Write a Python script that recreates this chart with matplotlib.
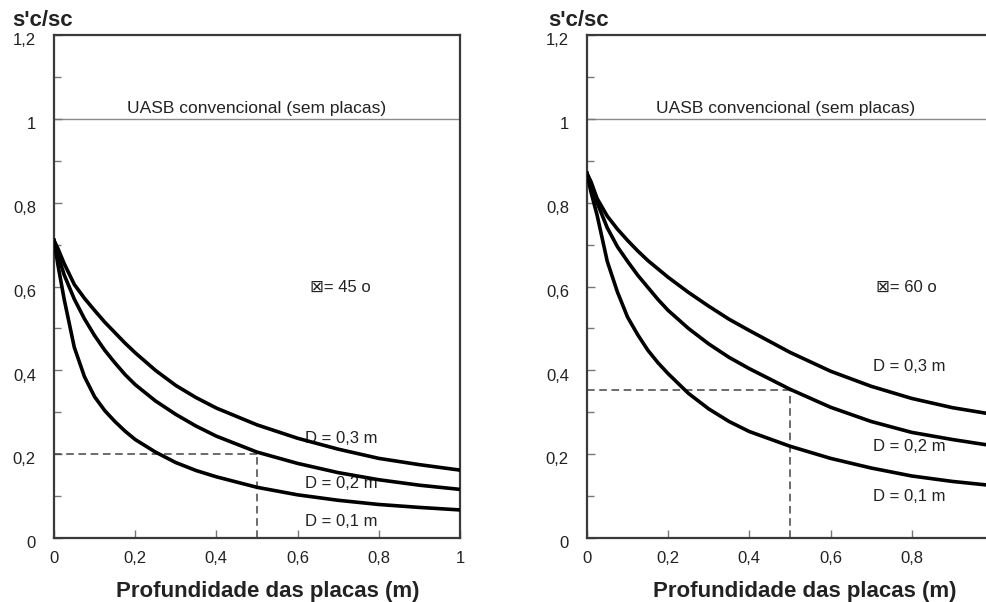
import matplotlib
matplotlib.use("Agg")
import matplotlib.pyplot as plt
import matplotlib.transforms as mtransforms
from matplotlib.ticker import MultipleLocator, FixedLocator

plt.rcParams['font.family'] = ['Liberation Sans', 'DejaVu Sans']

# ---- data ----
depth = [0, 0.01, 0.025, 0.05, 0.075, 0.1, 0.125, 0.15, 0.175, 0.2, 0.25, 0.3, 0.35, 0.4,
         0.5, 0.6, 0.7, 0.8, 0.9, 1.0]

left_d01 = [0.71, 0.65, 0.57, 0.455, 0.385, 0.337, 0.304, 0.278, 0.255, 0.235, 0.205, 0.18, 0.161, 0.146,
            0.121, 0.103, 0.09, 0.08, 0.073, 0.067]
left_d02 = [0.71, 0.675, 0.628, 0.57, 0.523, 0.483, 0.448, 0.418, 0.39, 0.366, 0.327, 0.295, 0.267, 0.243,
            0.205, 0.178, 0.156, 0.139, 0.126, 0.116]
left_d03 = [0.71, 0.69, 0.655, 0.605, 0.572, 0.543, 0.515, 0.49, 0.465, 0.442, 0.4, 0.364, 0.335, 0.31,
            0.27, 0.238, 0.212, 0.19, 0.175, 0.162]

right_d01 = [0.87, 0.825, 0.77, 0.66, 0.587, 0.527, 0.485, 0.448, 0.418, 0.392, 0.345, 0.308, 0.278, 0.254,
             0.219, 0.19, 0.167, 0.148, 0.135, 0.125]
right_d02 = [0.87, 0.84, 0.8, 0.74, 0.695, 0.66, 0.627, 0.598, 0.569, 0.543, 0.5, 0.463, 0.431, 0.404,
             0.355, 0.312, 0.278, 0.252, 0.235, 0.22]
right_d03 = [0.87, 0.85, 0.81, 0.768, 0.737, 0.71, 0.685, 0.662, 0.642, 0.622, 0.586, 0.553, 0.522, 0.495,
             0.443, 0.398, 0.362, 0.333, 0.311, 0.295]

curve_labels = ["D = 0,1 m", "D = 0,2 m", "D = 0,3 m"]
left_label_y = [0.039, 0.13, 0.238]
right_label_y = [0.099, 0.218, 0.409]

angles = ["\u22a0= 45 o", "\u22a0= 60 o"]
ref_line_value = 1.0
ref_line_text = "UASB convencional (sem placas)"
guide_x = 0.5
left_guide_y = 0.2
right_guide_y = 0.352

xticks = [0, 0.2, 0.4, 0.6, 0.8, 1.0]
left_xticklabels = ["0", "0,2", "0,4", "0,6", "0,8", "1"]
right_xticklabels = ["0", "0,2", "0,4", "0,6", "0,8", ""]
yticks = [0, 0.2, 0.4, 0.6, 0.8, 1.0, 1.2]
yticklabels = ["0", "0,2", "0,4", "0,6", "0,8", "1", "1,2"]

ylabel = "s'c/sc"
xlabel = "Profundidade das placas (m)"

# ---- figure ----
fig = plt.figure(figsize=(9.87, 6.02), dpi=100)
ax1 = fig.add_axes([0.0547, 0.1063, 0.4113, 0.8355])
ax2 = fig.add_axes([0.5947, 0.1063, 0.4113, 0.8355])

panels = [
    (ax1, [left_d01, left_d02, left_d03], left_label_y, 0.618, angles[0], 0.63, left_guide_y, 0.5, left_xticklabels),
    (ax2, [right_d01, right_d02, right_d03], right_label_y, 0.704, angles[1], 0.713, right_guide_y, 0.49, right_xticklabels),
]

spine_col = '#3a3a3a'
shift = mtransforms.ScaledTranslation(0, -3 / 72, fig.dpi_scale_trans)
for ax, curves, lab_y, lab_x, ang, ang_x, gy, uasb_x, xtl in panels:
    for c in curves:
        ax.plot(depth, c, color='black', lw=2.6, solid_joinstyle='round', zorder=3)
    for txt, yv in zip(curve_labels, lab_y):
        ax.text(lab_x, yv, txt, fontsize=12, ha='left', va='center', color='#222222', zorder=2)
    ax.axhline(ref_line_value, color='#8a8a8a', lw=1.0, zorder=1)
    ax.text(uasb_x, ref_line_value + 0.008, ref_line_text, fontsize=12.5, ha='center', va='bottom', color='#222222')
    ax.text(ang_x, 0.597, ang, fontsize=12, ha='left', va='center', color='#222222')
    ax.plot([0, guide_x], [gy, gy], color='#444444', lw=1.1, ls=(0, (5, 3)), zorder=2)
    ax.plot([guide_x, guide_x], [0, gy], color='#444444', lw=1.1, ls=(0, (5, 3)), zorder=2)

    ax.set_xlim(0, 1)
    ax.set_ylim(0, 1.2)
    ax.xaxis.set_major_locator(FixedLocator(xticks))
    ax.set_xticklabels(xtl)
    ax.yaxis.set_major_locator(FixedLocator(yticks))
    ax.set_yticklabels(yticklabels)
    ax.yaxis.set_minor_locator(MultipleLocator(0.1))
    ax.tick_params(axis='both', which='both', direction='in', color='#777777',
                   labelsize=12, labelcolor='#222222')
    ax.tick_params(axis='both', which='major', length=6, width=1)
    ax.tick_params(axis='y', which='minor', length=5, width=1)
    ax.tick_params(axis='y', which='major', pad=13)
    ax.tick_params(axis='x', which='major', pad=9)
    for lab in ax.get_yticklabels():
        lab.set_transform(lab.get_transform() + shift)
    for s in ax.spines.values():
        s.set_color(spine_col)
        s.set_linewidth(1.6)

# y labels (above axes) and x labels
fig.text(12 / 987, 1 - 20 / 602, ylabel, fontsize=16, fontweight='bold', ha='left', va='center', color='#222222')
fig.text(548 / 987, 1 - 20 / 602, ylabel, fontsize=16, fontweight='bold', ha='left', va='center', color='#222222')
fig.text(268 / 987, 1 - 591 / 602, xlabel, fontsize=16, fontweight='bold', ha='center', va='center', color='#222222')
fig.text(805 / 987, 1 - 591 / 602, xlabel, fontsize=16, fontweight='bold', ha='center', va='center', color='#222222')

fig.savefig("out.png", dpi=100)
